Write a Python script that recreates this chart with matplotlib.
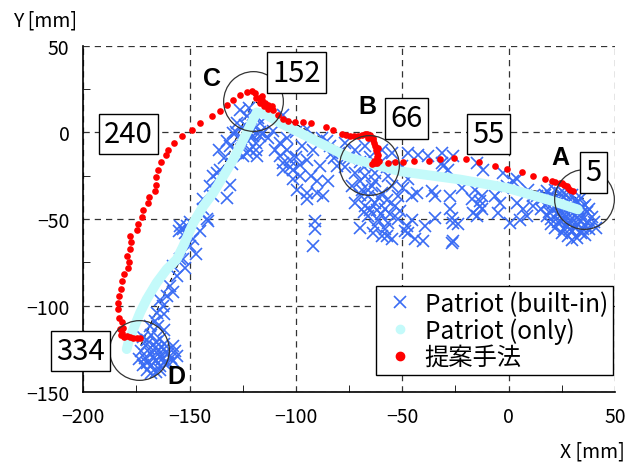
import numpy as np
import matplotlib
matplotlib.use("Agg")
import matplotlib.pyplot as plt
from matplotlib.lines import Line2D

plt.rcParams['font.family'] = ['Noto Sans CJK JP', 'DejaVu Sans']

# ---------- DATA ----------
# Patriot (only): smoothed track, A first
only_x = [32.6, 20.8, -0.9, -22.9, -51.1, -74.6, -79.3, -88.7, -98.1, -107.5, -113.8, -118.5,
          -123.2, -129.5, -134.2, -138.9, -143.6, -148.3, -153.0, -156.1, -160.8, -165.5,
          -170.2, -173.3, -176.5, -178.8, -179.6]
only_y = [-44.5, -39.7, -32.0, -27.2, -22.5, -14.7, -11.9, -6.1, -0.3, 5.4, 10.0, 11.5,
          -0.3, -15.7, -25.3, -34.9, -42.6, -52.2, -65.6, -73.3, -79.0, -86.7,
          -96.3, -104.0, -113.6, -121.2, -125.1]

# proposed method (red dots), A -> D
prop_x = [30.4, 29.0, 28.0, 27.4, 26.0, 25.0, 24.1, 22.0, 20.2, 17.1, 11.3, 6.1, -0.9, -6.3,
          -14.1, -20.1, -25.7, -32.3, -37.5, -44.4, -49.8, -53.5, -56.6,
          -61.0, -62.0, -62.9, -64.4, -63.5, -61.8, -61.2, -62.0, -62.1, -61.5, -62.5, -62.9,
          -63.3, -63.7, -64.0, -64.5, -65.2, -66.0, -66.4, -67.6, -69.0, -70.7, -72.6, -74.6,
          -76.5, -78.5, -82.7, -86.0, -92.9, -96.6, -100.5, -103.6, -106.0, -108.3, -110.7,
          -111.4, -113.0, -113.0, -114.5, -115.0, -116.0, -117.0, -117.5, -119.0, -119.2,
          -116.0, -120.8, -123.2, -126.3, -129.5, -132.6, -135.7, -139.6, -145.1, -149.0,
          -153.7, -157.2, -160.0, -161.1, -163.5, -164.7, -165.8, -165.8, -166.3, -169.0,
          -169.4, -171.8, -172.5, -174.1, -174.9, -178.0, -177.7, -178.0, -179.3, -178.4,
          -178.8, -180.7, -181.7, -182.4, -183.2, -183.5, -183.5, -183.1, -181.9, -181.2,
          -182.7, -181.9, -182.5, -181.0, -179.6, -178.0, -176.5, -174.8, -173.3]
prop_y = [-34.0, -33.0, -32.0, -31.0, -30.1, -29.5, -29.0, -28.5, -27.8, -27.2, -24.9, -23.0,
          -21.1, -19.2, -17.0, -15.3, -14.7, -15.3, -16.3, -16.3, -17.0, -17.0, -17.6,
          -16.5, -17.8, -17.6, -18.0, -16.5, -15.7, -13.0, -14.0, -11.9, -9.0, -10.0, -8.1,
          -6.0, -4.2, -3.0, -2.5, -1.3, -3.0, -1.0, -0.9, -1.5, -2.3, -2.3, -2.3,
          -1.6, -0.9, 1.2, 2.9, 5.2, 6.0, 5.8, 6.3, 7.7, 10.2, 13.1,
          15.0, 13.5, 16.0, 17.0, 15.0, 18.5, 17.0, 20.0, 20.0, 22.7,
          21.0, 23.6, 23.3, 21.7, 18.8, 15.9, 12.1, 9.2, 5.4, 1.2,
          -2.3, -6.1, -10.0, -12.8, -17.3, -21.5, -25.7, -30.1, -33.6, -37.2,
          -40.6, -44.9, -48.7, -52.7, -56.6, -59.9, -63.3, -67.5, -71.4, -74.8,
          -78.1, -81.9, -85.8, -90.6, -94.4, -98.2, -102.1, -106.9, -109.7, -112.6,
          -113.6, -115.5, -117.0, -118.0, -117.4, -118.2, -118.4, -118.4, -118.4]

# Patriot (built-in) raw points, grouped by area
builtin_a = [(18, -34), (22, -33), (26, -35), (30, -36), (34, -38), (16, -38), (20, -37),
             (24, -39), (28, -40), (32, -41), (36, -42), (17, -42), (21, -41), (25, -43),
             (29, -44), (33, -45), (37, -46), (19, -46), (23, -47), (27, -48), (31, -48),
             (35, -50), (39, -49), (20, -50), (24, -51), (28, -52), (32, -53), (36, -54),
             (22, -55), (26, -56), (30, -57), (34, -58), (38, -56), (28, -60), (32, -61),
             (40, -52), (15, -44), (18, -48), (26, -44), (30, -52), (22, -38), (34, -47),
             (19, -40), (23, -43), (27, -36), (31, -39), (35, -43), (21, -45), (25, -47),
             (29, -48), (33, -50), (37, -52), (23, -52), (27, -54), (31, -55), (35, -56),
             (25, -58), (29, -56), (33, -44), (17, -36), (38, -44), (20, -53), (24, -35),
             (30, -42), (26, -50), (36, -59), (30, -62), (41, -55)]
builtin_ab = [(-15.0, -17.6), (-11.9, -21.5), (-15.8, -33.0), (-13.5, -39.7), (-6.4, -36.8),
              (-2.5, -23.4), (-2.5, -32.0), (2.2, -28.2), (3.8, -40.6), (6.9, -44.5),
              (11.6, -42.6), (9.2, -33.0), (13.2, -36.8), (-16.6, -46.4), (-47.2, -27.2),
              (-42.5, -12.8), (-37.8, -13.8), (-47.2, -11.9), (-31.5, -17.6), (-28.4, -21.5),
              (-22.1, -32.0), (-17.4, -38.7), (-12.7, -44.5), (-12.7, -36.8), (-36.2, -34.0),
              (-34.6, -36.8), (-43.3, -34.9), (-45.6, -36.8), (-34.6, -49.3), (-27.6, -44.5),
              (-26.8, -49.3), (-23.7, -53.1), (-26.8, -63.7), (-39.3, -54.1), (-45.6, -50.3),
              (-51.1, -45.5), (-49.6, -32.0), (-50.3, -19.6), (-48.0, -54.1), (-48.8, -57.0),
              (-44.1, -61.8), (-40.1, -62.8), (-31.5, -11.9), (-26.0, -13.8), (-30.7, -19.6),
              (-27.6, -36.8), (-26.0, -52.2), (-26.0, -62.8), (-13.5, -42.6), (-15.0, -48.4),
              (-4.1, -40.6), (-4.9, -46.4), (-0.9, -31.1), (3.8, -27.2), (8.5, -48.4),
              (5.3, -50.3), (11.6, -36.8), (0.6, -52.2), (-47.2, -57.9), (-57.4, -59.9)]
builtin_b = [(-77.0, -6.1), (-72.3, -10.0), (-67.6, -8.1), (-59.7, -10.0), (-55.0, -11.9),
             (-72.3, -23.4), (-67.6, -25.3), (-62.9, -23.4), (-56.6, -25.3), (-73.8, -31.1),
             (-69.1, -33.0), (-64.4, -31.1), (-59.7, -34.9), (-55.0, -31.1), (-72.3, -40.6),
             (-67.6, -42.6), (-62.9, -40.6), (-58.2, -44.5), (-53.5, -42.6), (-66.0, -48.4),
             (-61.3, -50.3), (-56.6, -52.2), (-69.9, -55.0), (-59.7, -59.9), (-55.0, -61.8),
             (-75, -15), (-70, -17), (-65, -14), (-60, -17), (-57, -20), (-68, -20), (-63, -28),
             (-70, -36), (-66, -37), (-61, -38), (-57, -39), (-65, -45), (-60, -47), (-63, -54),
             (-58, -56), (-52, -50), (-52, -37), (-77, -20), (-80, -12), (-84, -8), (-82, -15),
             (-70, -28), (-66, -33), (-62, -45), (-68, -46), (-56, -47), (-64, -58)]
builtin_c = [(-126.3, 13.1), (-123.2, 9.2), (-127.9, 5.4), (-129.5, -0.3), (-132.6, -5.2),
             (-131.0, -8.1), (-123.2, -4.2), (-121.6, -10.0), (-118.5, -13.8), (-124.8, -13.8),
             (-127.1, -11.9), (-116.9, -2.3), (-116.9, 5.4), (-115.4, -0.3), (-110.7, 0.6),
             (-106.0, 10.2), (-107.5, -6.1), (-104.4, -10.0), (-107.5, -13.8), (-106.0, -17.6),
             (-102.8, -15.7), (-106.0, -21.5), (-101.3, -21.5), (-101.3, -27.2), (-98.1, -18.6),
             (-95.0, -15.7), (-98.1, -25.3), (-99.7, -33.0), (-95.0, -34.9), (-95.0, -38.7),
             (-90.3, -34.9), (-87.2, -36.8), (-91.9, -10.0), (-88.7, -19.6), (-85.6, -5.2),
             (-80.9, -19.6), (-91.1, -51.2), (-91.1, -56.0), (-91.9, -65.6), (-121, 2),
             (-119, -6), (-125, -8), (-128, 0), (-122, 14), (-118, 8), (-113, -3), (-104, -3),
             (-97, -8), (-93, -25), (-90, -28), (-85, -28), (-83, -12), (-110, -10), (-100, 0),
             (-95, 2), (-88, -3), (-120, 10), (-124, 4), (-122, -1), (-126, -4), (-120, -2),
             (-117, 0), (-119, -10), (-123, -12), (-103, -20), (-100, -14)]
builtin_cd = [(-132.6, -37.8), (-131.0, -30.1), (-138.9, -25.3), (-135.7, -21.5), (-140.4, -31.1),
              (-138.9, -36.8), (-143.6, -38.7), (-143.6, -44.5), (-141.2, -51.2), (-145.1, -57.0),
              (-148.3, -61.8), (-153.0, -56.0), (-151.4, -54.1), (-154.5, -54.1), (-153.0, -73.3),
              (-137.3, -23.4), (-142, -50), (-149.8, -65.6), (-154.5, -73.3), (-157.7, -77.1),
              (-156.1, -82.9), (-159.2, -88.7), (-160.8, -94.4), (-162.4, -100.2), (-165.5, -104.0),
              (-166.3, -108.8), (-168.6, -111.7), (-134, -15), (-136, -10), (-130, -18),
              (-152, -58), (-155, -57), (-150, -52), (-147, -70), (-152, -78), (-158, -92),
              (-164, -97), (-162, -105)]
builtin_d = [(-172, -118), (-168, -117), (-164, -119), (-170, -122), (-166, -121), (-162, -122),
             (-158, -123), (-173, -126), (-169, -125), (-165, -126), (-161, -127), (-157, -126),
             (-171, -130), (-167, -130), (-163, -131), (-159, -130), (-172, -134), (-168, -134),
             (-164, -135), (-160, -133), (-170, -137), (-166, -138), (-174, -131), (-156, -129),
             (-162, -114), (-165, -112), (-170, -120), (-166, -124), (-162, -125), (-168, -128),
             (-164, -129), (-160, -128), (-170, -133), (-166, -132), (-162, -133), (-158, -132),
             (-168, -139), (-164, -137)]

# reference points A-D (circle centres) and labels
ref_names = ['A', 'B', 'C', 'D']
ref_x = [35.3, -65.7, -120.0, -173.9]
ref_y = [-38.3, -18.6, 18.2, -125.3]
name_x = [24.1, -66.6, -139.4, -156.4]
name_y = [-14.0, 15.3, 31.4, -140.7]

box_text = ['5', '55', '66', '152', '240', '334']
box_x = [40.0, -9.4, -48.1, -99.7, -178.7, -201.4]
box_y = [-23.1, -0.9, 8.0, 34.4, -0.9, -126.1]

BLUE = '#3a6cf4'
CYAN = '#c4fafa'
RED = '#ff0000'

fig = plt.figure(figsize=(6.41, 4.64), dpi=100)
ax = fig.add_axes([0.130, 0.1523, 0.8294, 0.7471])

# planned path (dashed) under everything
ax.plot(ref_x, ref_y, color='black', lw=0.8, ls=(0, (4, 3)), zorder=1)

built = np.array(builtin_a + builtin_ab + builtin_b + builtin_c + builtin_cd + builtin_d)
ax.plot(built[:, 0], built[:, 1], ls='none', marker='x', ms=8, mew=1.2, color=BLUE, zorder=2)

ax.plot(only_x, only_y, color=CYAN, lw=7, solid_capstyle='round', solid_joinstyle='round', zorder=3)

ax.plot(prop_x, prop_y, ls='none', marker='o', ms=4.8, color=RED, mec='none', zorder=4)

# circles around reference points
ax.plot(ref_x, ref_y, ls='none', marker='o', ms=43, mfc='none', mec='#333333', mew=0.9, zorder=5)

for n, x, y in zip(ref_names, name_x, name_y):
    ax.text(x, y, n, fontsize=18, fontweight='bold', family='Liberation Sans',
            ha='center', va='center', zorder=6)

for t, x, y in zip(box_text, box_x, box_y):
    ax.text(x, y, t, fontsize=21, ha='center', va='center', zorder=7, clip_on=False,
            bbox=dict(boxstyle='square,pad=0.18', fc='white', ec='black', lw=1.0))

ax.set_xlim(-200, 50)
ax.set_ylim(-150, 50)
ax.set_xticks(np.arange(-200, 51, 50))
ax.set_yticks(np.arange(-150, 51, 50))
ax.set_xticks(np.arange(-175, 50, 25), minor=True)
ax.set_yticks(np.arange(-125, 50, 25), minor=True)
ax.tick_params(which='both', direction='in', labelsize=14, top=False, right=False)
ax.tick_params(which='major', length=0, pad=10)
ax.tick_params(which='minor', length=5)
ax.grid(True, which='major', color='#333333', lw=0.9, ls=(0, (5, 4)))
ax.spines['top'].set_visible(False)
ax.spines['right'].set_visible(False)
ax.spines['left'].set_linewidth(1.2)
ax.spines['bottom'].set_linewidth(1.2)

fig.text(0.02, 0.955, 'Y [mm]', fontsize=14, va='center', ha='left')
fig.text(0.975, 0.026, 'X [mm]', fontsize=14, va='center', ha='right')

handles = [Line2D([], [], ls='none', marker='x', ms=8, mew=1.2, color=BLUE),
           Line2D([], [], ls='none', marker='o', ms=6, color=CYAN),
           Line2D([], [], ls='none', marker='o', ms=6, color=RED)]
leg = ax.legend(handles, ['Patriot (built-in)', 'Patriot (only)', '提案手法'],
                loc='lower right', bbox_to_anchor=(0.996, 0.05), fontsize=17.5,
                fancybox=False, framealpha=1, edgecolor='black', handlelength=1.6,
                handletextpad=0.2, labelspacing=0.02, borderpad=0.2, borderaxespad=0.0)
leg.get_frame().set_linewidth(1.0)
leg.set_zorder(8)

fig.savefig('out.png', dpi=100)
